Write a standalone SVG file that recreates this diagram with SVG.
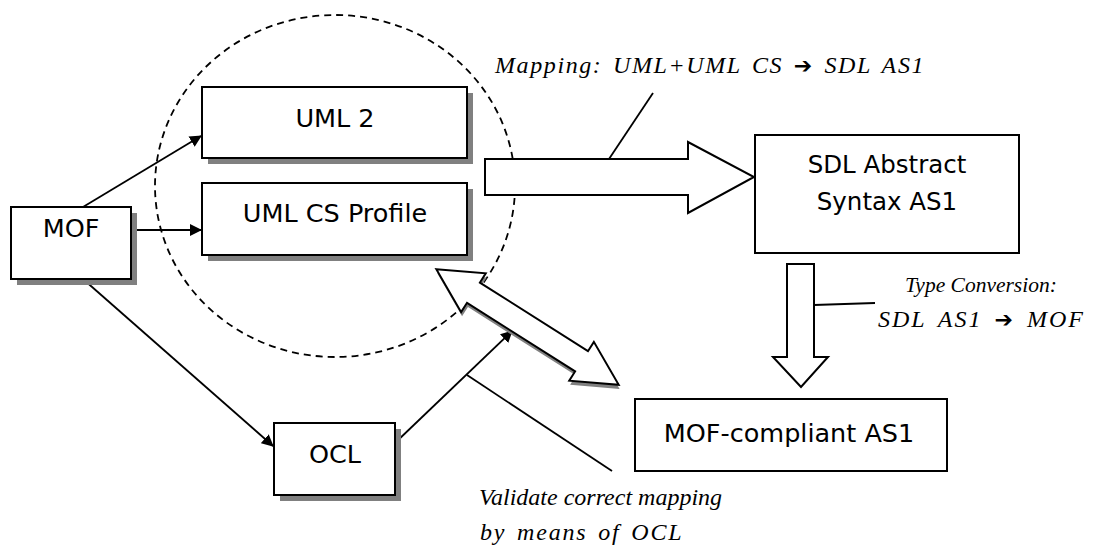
<svg xmlns="http://www.w3.org/2000/svg" width="1108" height="545" viewBox="0 0 1108 545">
<defs>
<style>
.box{fill:#fff;stroke:#000;stroke-width:2}
.sh{fill:#808080}
.lbl{font-family:"DejaVu Sans",Verdana,sans-serif;font-size:25.5px;fill:#000;text-anchor:middle}
.it{font-family:"Liberation Serif","Times New Roman",serif;font-style:italic;font-size:24px;fill:#000}
.arr{font-family:"DejaVu Sans",sans-serif;font-style:normal;font-size:22px}
.ln{stroke:#000;stroke-width:1.8;fill:none}
.hol{fill:#fff;stroke:#000;stroke-width:2;stroke-linejoin:miter}
</style>
<marker id="ah" viewBox="0 0 12 12" refX="11" refY="6" markerWidth="12" markerHeight="12" markerUnits="userSpaceOnUse" orient="auto">
<path d="M0,0 L12,6 L0,12 z" fill="#000"/>
</marker>
</defs>
<rect width="1108" height="545" fill="#fff"/>
<ellipse cx="335" cy="186" rx="180" ry="171" fill="none" stroke="#000" stroke-width="1.8" stroke-dasharray="7,5"/>
<g id="connectors">
<line class="ln" x1="83" y1="207" x2="201" y2="136" marker-end="url(#ah)"/>
<line class="ln" x1="131" y1="230" x2="201" y2="230" marker-end="url(#ah)"/>
<line class="ln" x1="83" y1="279" x2="273" y2="446" marker-end="url(#ah)"/>
<line class="ln" x1="395" y1="443" x2="512" y2="331" marker-end="url(#ah)"/>
<polygon class="hol" points="485,159 688,159 688,142 754,177 688,213 688,195 485,195"/>
<line class="ln" x1="653" y1="93" x2="609" y2="159"/>
<polygon class="hol" points="787,264 814,264 814,357 828,357 801,387 773,357 787,357"/>
<line class="ln" x1="814" y1="305" x2="875" y2="303"/>
<g transform="translate(527.5,327) rotate(32.4)">
<polygon class="sh" transform="translate(3,3)" points="-108,0 -64,-23 -64,-12 64,-12 64,-23 108,0 64,23 64,12 -64,12 -64,23"/>
<polygon class="hol" points="-108,0 -64,-23 -64,-12 64,-12 64,-23 108,0 64,23 64,12 -64,12 -64,23"/>
</g>
<line class="ln" x1="467" y1="375" x2="612" y2="471"/>
</g>
<g id="mof">
<rect class="sh" x="17" y="213" width="120" height="72"/>
<rect class="box" x="11" y="207" width="120" height="72"/>
<text class="lbl" x="71" y="237">MOF</text>
</g>
<g id="uml2">
<rect class="sh" x="208" y="93" width="265" height="71"/>
<rect class="box" x="202" y="87" width="265" height="71"/>
<text class="lbl" x="335" y="127">UML 2</text>
</g>
<g id="umlcs">
<rect class="sh" x="208" y="189" width="265" height="72"/>
<rect class="box" x="202" y="183" width="265" height="72"/>
<text class="lbl" x="335" y="222">UML CS Profile</text>
</g>
<g id="ocl">
<rect class="sh" x="280" y="429" width="121" height="72"/>
<rect class="box" x="274" y="423" width="121" height="72"/>
<text class="lbl" x="335" y="463">OCL</text>
</g>
<g id="sdl">
<rect class="box" x="755" y="135" width="264" height="118"/>
<text class="lbl" x="887" y="173" style="font-size:24.5px">SDL Abstract</text>
<text class="lbl" x="887" y="210" style="font-size:24.5px">Syntax AS1</text>
</g>
<g id="mofas1">
<rect class="box" x="635" y="399" width="312" height="72"/>
<text class="lbl" x="789" y="442">MOF-compliant AS1</text>
</g>
<g id="labels">
<text class="it" x="495" y="73" style="letter-spacing:1.6px;word-spacing:3px">Mapping: UML+UML CS <tspan class="arr">➔</tspan> SDL AS1</text>
<text class="it" x="905" y="292" style="font-size:21.5px">Type Conversion:</text>
<text class="it" x="878" y="327" style="letter-spacing:2px;word-spacing:4px">SDL AS1 <tspan class="arr">➔</tspan> MOF</text>
<text class="it" x="479" y="505">Validate correct mapping</text>
<text class="it" x="480" y="540" style="letter-spacing:1.8px;word-spacing:3px">by means of OCL</text>
</g>
</svg>
